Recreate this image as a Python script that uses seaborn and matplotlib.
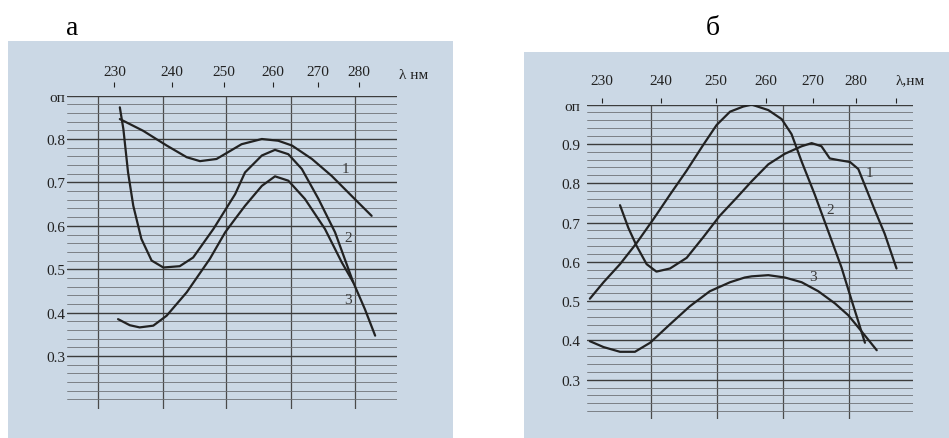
import numpy as np
import pandas as pd
import matplotlib.pyplot as plt
import matplotlib.transforms as mtransforms
from matplotlib.patches import Rectangle
import seaborn as sns

# ---- панель а ----
a_wl1 = [230.9, 234.9, 239.1, 242.8, 245.3, 248.5, 253.5, 257.7, 261.2, 264.2, 268.7, 273.3, 278.1, 283.1]
a_od1 = [0.846, 0.819, 0.785, 0.758, 0.749, 0.754, 0.788, 0.800, 0.796, 0.785, 0.754, 0.715, 0.669, 0.623]

a_wl2 = [230.9, 231.5, 232.3, 233.2, 234.6, 236.4, 238.5, 241.5, 244.0, 247.9, 252.2, 254.2, 257.7,
         260.5, 263.4, 266.4, 270.2, 274.1, 278.5]
a_od2 = [0.873, 0.823, 0.723, 0.646, 0.570, 0.520, 0.504, 0.507, 0.527, 0.593, 0.673, 0.723, 0.762,
         0.775, 0.765, 0.731, 0.662, 0.585, 0.470]

a_wl3 = [230.6, 232.6, 234.3, 236.7, 239.1, 242.8, 247.2, 250.2, 252.2, 254.2, 257.7, 260.5, 263.4,
         267.1, 271.7, 275.7, 278.5, 281.4, 284.0]
a_od3 = [0.385, 0.371, 0.366, 0.370, 0.393, 0.447, 0.524, 0.585, 0.616, 0.646, 0.692, 0.714, 0.704,
         0.662, 0.593, 0.516, 0.470, 0.408, 0.347]

# ---- панель б ----
b_wl1 = [233.0, 234.4, 235.8, 237.5, 239.2, 241.6, 244.6, 247.7, 250.8, 254.1, 257.1, 260.5, 264.0,
         267.6, 269.8, 272.0, 273.9, 275.8, 278.6, 280.6, 282.2, 284.6, 287.1, 290.1]
b_od1 = [0.744, 0.686, 0.640, 0.594, 0.575, 0.583, 0.610, 0.663, 0.717, 0.763, 0.805, 0.848, 0.875,
         0.894, 0.902, 0.894, 0.863, 0.859, 0.854, 0.836, 0.794, 0.732, 0.671, 0.583]

b_wl2 = [228.1, 230.3, 233.0, 235.8, 238.7, 241.6, 244.6, 247.7, 250.2, 252.8, 255.4, 257.1, 260.5,
         263.3, 265.4, 267.6, 270.5, 273.5, 276.6, 279.0, 280.6, 282.2]
b_od2 = [0.506, 0.548, 0.594, 0.648, 0.709, 0.771, 0.832, 0.898, 0.948, 0.982, 0.995, 1.000, 0.986,
         0.963, 0.925, 0.855, 0.771, 0.679, 0.586, 0.502, 0.448, 0.394]

b_wl3 = [228.1, 230.3, 233.0, 235.5, 238.1, 241.6, 245.2, 248.9, 252.8, 255.7, 257.1, 260.5, 264.0,
         267.6, 271.3, 275.1, 278.2, 280.6, 283.0, 285.1]
b_od3 = [0.398, 0.383, 0.371, 0.371, 0.394, 0.441, 0.487, 0.525, 0.548, 0.560, 0.563, 0.566, 0.560,
         0.548, 0.525, 0.494, 0.464, 0.433, 0.402, 0.375]

wl_ticks = [230, 240, 250, 260, 270, 280]
a_yticks = [0.3, 0.4, 0.5, 0.6, 0.7, 0.8, 0.9]
a_ylabels = ["0.3", "0.4", "0.5", "0.6", "0.7", "0.8", "оп"]
b_yticks = [0.3, 0.4, 0.5, 0.6, 0.7, 0.8, 0.9, 1.0]
b_ylabels = ["0.3", "0.4", "0.5", "0.6", "0.7", "0.8", "0.9", "оп"]

# линии миллиметровки (не совпадают с делениями шкалы)
a_paper = [227.2, 238.4, 250.4, 264.0, 279.0]
b_paper = [238.3, 250.3, 263.6, 278.3]

a_num_pos = {"1": (276.5, 0.733), "2": (277.3, 0.573), "3": (277.3, 0.431)}
b_num_pos = {"1": (283.4, 0.826), "2": (273.9, 0.732), "3": (270.1, 0.563)}

sns.set_style("white")
plt.rcParams["font.family"] = ["Liberation Serif", "DejaVu Serif"]

W, H = 949, 439
fig = plt.figure(figsize=(W / 100, H / 100), dpi=100)
fig.patch.set_facecolor("white")

paper = "#cbd8e5"
ink = "#222222"
fig.patches.append(Rectangle((8 / W, 0), 445 / W, 1 - 42 / H, transform=fig.transFigure,
                             facecolor=paper, edgecolor="none", zorder=-5))
fig.patches.append(Rectangle((524 / W, 0), 425 / W, 1 - 53 / H, transform=fig.transFigure,
                             facecolor=paper, edgecolor="none", zorder=-5))
fig.text(72 / W, 1 - 35 / H, "а", fontsize=20, ha="center", va="baseline", color="black")
fig.text(713 / W, 1 - 35 / H, "б", fontsize=20, ha="center", va="baseline", color="black")


def px_axes(x0, y0, x1, y1):
    return fig.add_axes([x0 / W, 1 - y1 / H, (x1 - x0) / W, (y1 - y0) / H])


def wavenumber(l):
    return -1000.0 / np.asarray(l, dtype=float)


def setup(ax, xlim, ylim, yticks, ylabels, paper_x, ypad):
    ax.set_facecolor("none")
    ax.set_xscale("function", functions=(wavenumber, wavenumber))
    ax.set_xlim(*xlim)
    ax.set_ylim(*ylim)
    for s in ax.spines.values():
        s.set_visible(False)
    ax.xaxis.tick_top()
    ax.set_xticks(wl_ticks)
    ax.set_xticklabels([str(t) for t in wl_ticks])
    ax.set_xticks(paper_x, minor=True)
    ax.set_yticks(yticks)
    ax.set_yticklabels(ylabels)
    ax.set_yticks(np.round(np.arange(0.2, ylim[1] + 0.005, 0.02), 2), minor=True)
    ax.tick_params(axis="x", which="both", length=0, pad=12.5, labelsize=11, labelcolor=ink)
    ax.tick_params(axis="y", which="both", length=0, pad=ypad, labelsize=11, labelcolor=ink)
    ax.grid(False)
    ax.grid(axis="y", which="minor", color="#6e7277", linewidth=0.6)
    ax.grid(axis="y", which="major", color="#3c3c3c", linewidth=1.0)
    ax.grid(axis="x", which="minor", color="#4a4a4a", linewidth=0.9)
    ax.set_xlabel("")
    ax.set_ylabel("")
    return mtransforms.blended_transform_factory(ax.transData, ax.transAxes)


curves_a = pd.concat([
    pd.DataFrame({"wl": a_wl1, "od": a_od1, "n": "1"}),
    pd.DataFrame({"wl": a_wl2, "od": a_od2, "n": "2"}),
    pd.DataFrame({"wl": a_wl3, "od": a_od3, "n": "3"}),
])
curves_b = pd.concat([
    pd.DataFrame({"wl": b_wl1, "od": b_od1, "n": "1"}),
    pd.DataFrame({"wl": b_wl2, "od": b_od2, "n": "2"}),
    pd.DataFrame({"wl": b_wl3, "od": b_od3, "n": "3"}),
])

# ---- а ----
ax1 = px_axes(67, 96.6, 397, 410)
for n, g in curves_a.groupby("n"):
    sns.lineplot(data=g, x="wl", y="od", ax=ax1, color=ink, linewidth=1.6, sort=False,
                 solid_joinstyle="round", solid_capstyle="round", zorder=3)
tr1 = setup(ax1, (222.3, 289.7), (0.178, 0.9), a_yticks, a_ylabels, a_paper, 1.5)
ax1.vlines(wl_ticks, 1.027, 1.043, transform=tr1, color=ink, linewidth=0.8, clip_on=False)
ax1.text(294.1, 1.066, "λ нм", transform=tr1, ha="center", va="center", fontsize=11,
         color=ink, clip_on=False)
for k, (x, y) in a_num_pos.items():
    ax1.text(x, y, k, ha="center", va="center", fontsize=11, color="#3a3a3a", zorder=4)

# ---- б ----
ax2 = px_axes(587, 105.6, 913, 420)
for n, g in curves_b.groupby("n"):
    sns.lineplot(data=g, x="wl", y="od", ax=ax2, color=ink, linewidth=1.6, sort=False,
                 solid_joinstyle="round", solid_capstyle="round", zorder=3)
tr2 = setup(ax2, (227.65, 294.4), (0.275, 1.0), b_yticks, b_ylabels, b_paper, 5)
ax2.vlines(wl_ticks + [290], 1.005, 1.021, transform=tr2, color=ink, linewidth=0.8, clip_on=False)
ax2.text(293.8, 1.078, "λ,нм", transform=tr2, ha="center", va="center", fontsize=11,
         color=ink, clip_on=False)
for k, (x, y) in b_num_pos.items():
    ax2.text(x, y, k, ha="center", va="center", fontsize=11, color="#3a3a3a", zorder=4)

fig.savefig("out.png", dpi=100)
